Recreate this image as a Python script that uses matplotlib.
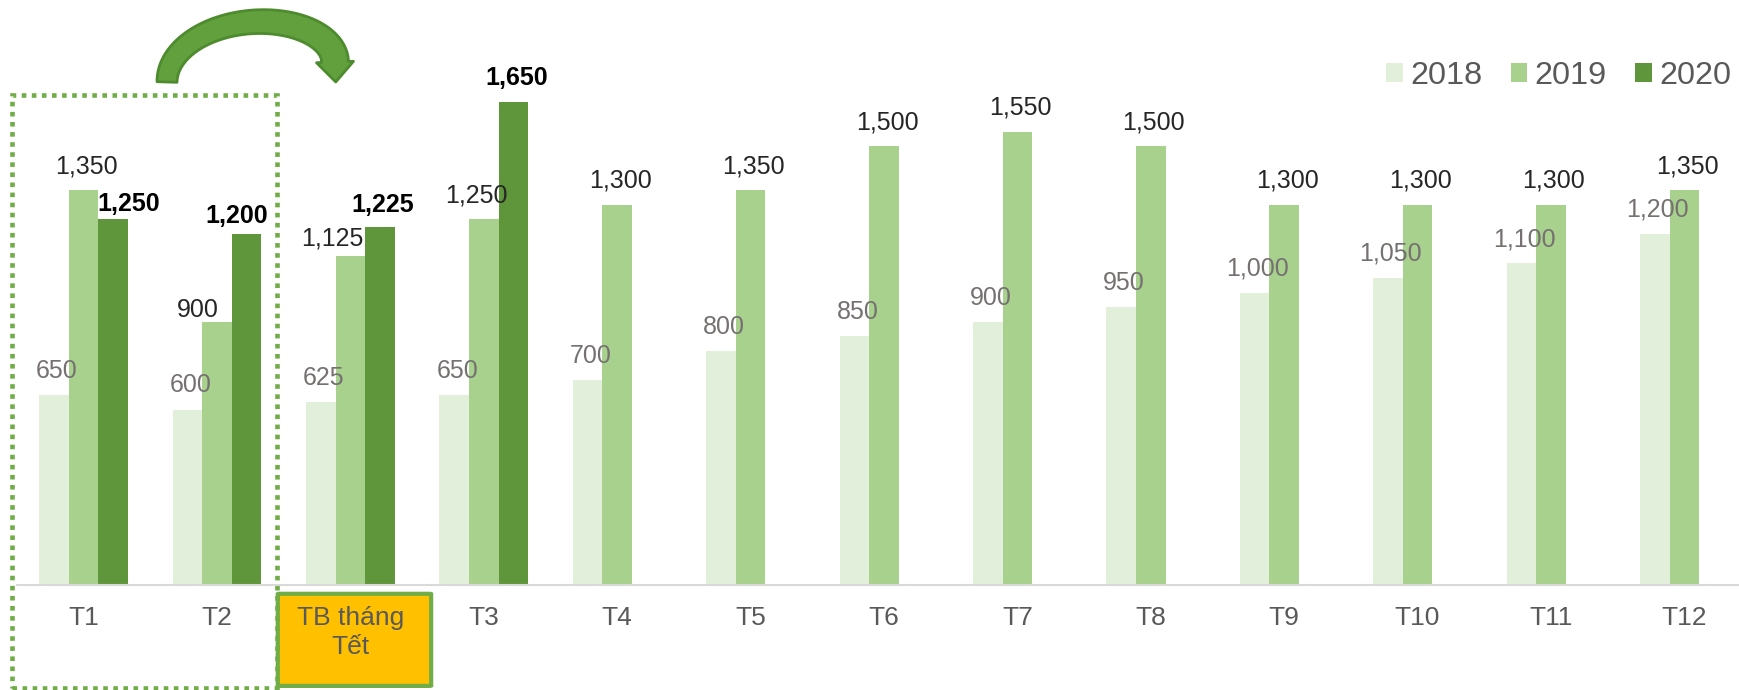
import numpy as np
import matplotlib
matplotlib.use("Agg")
import matplotlib.pyplot as plt
from matplotlib.patches import Rectangle, FancyBboxPatch, Polygon

plt.rcParams['font.family'] = ['Liberation Sans', 'DejaVu Sans']

# data
categories = ['T1', 'T2', 'TB tháng\nTết', 'T3', 'T4', 'T5', 'T6', 'T7',
              'T8', 'T9', 'T10', 'T11', 'T12']
years = ['2018', '2019', '2020']
v2018 = [650, 600, 625, 650, 700, 800, 850, 900, 950, 1000, 1050, 1100, 1200]
v2019 = [1350, 900, 1125, 1250, 1300, 1350, 1500, 1550, 1500, 1300, 1300, 1300, 1350]
v2020 = [1250, 1200, 1225, 1650] + [np.nan] * 9

colors = ['#E2EFDA', '#A9D18E', '#5F963B']
label_colors = ['#767171', '#262626', '#000000']
label_weights = ['normal', 'normal', 'bold']

# manual label nudges (pixels) where labels were moved by hand
nudges = {(2, 0): (15, 8), (1, 1): (-19, 5), (2, 1): (-10, 11),
          (1, 2): (-18, 10), (2, 2): (3, 15), (1, 3): (-7, 17)}

W, H = 1739, 690
fig = plt.figure(figsize=(W / 100, H / 100), dpi=100)
ax = fig.add_axes([17 / W, 105 / H, (W - 17) / W, 585 / H])

x = np.arange(len(categories))
bw = 0.222
series = [v2018, v2019, v2020]
for k, vals in enumerate(series):
    ax.bar(x + (k - 1) * bw, vals, width=bw, color=colors[k],
           label=years[k], zorder=2)
    for i, v in enumerate(vals):
        if np.isnan(v):
            continue
        dx, dy = nudges.get((k, i), (3, 17))
        ax.annotate(f"{int(v):,}", (x[i] + (k - 1) * bw, v),
                    xytext=(dx, dy), textcoords='offset pixels',
                    ha='center', va='baseline', fontsize=18,
                    color=label_colors[k], fontweight=label_weights[k],
                    zorder=4)

ax.set_xlim(-0.5, 12.41)
ax.set_ylim(0, 2000)
for s in ['left', 'right', 'top']:
    ax.spines[s].set_visible(False)
ax.spines['bottom'].set_color('#D9D9D9')
ax.spines['bottom'].set_linewidth(1.5)
ax.set_yticks([])
ax.set_xticks(x)
ax.set_xticklabels(categories, fontsize=19, color='#595959', linespacing=1.25)
ax.tick_params(axis='x', length=0, pad=15)

# yellow box behind the "TB tháng Tết" label
ax.add_patch(FancyBboxPatch((2 - 0.545, -345), 1.15, 315,
                            boxstyle='round,pad=0,rounding_size=0.02',
                            facecolor='#FFC000', edgecolor='#70AD47',
                            linewidth=3, clip_on=False, zorder=1,
                            mutation_aspect=60))

# dotted box around T1, T2
ax.add_patch(Rectangle((-0.536, -352), 1.986, 1675 + 352, fill=False,
                       edgecolor='#70AD47', linewidth=3.3,
                       linestyle=(0, (1, 1.2)), clip_on=False, zorder=1))

# curved arrow (pixel coords, y down) along a half-ellipse centre line
th = np.linspace(np.pi, 0, 80)
cx, rx, ry = 251, 84, 50
cy = 82 - 20 * (1 - th / np.pi)
c = np.column_stack([cx + rx * np.cos(th), cy - ry * np.sin(th)])
d = np.gradient(c, axis=0)
d = d / np.linalg.norm(d, axis=1, keepdims=True)
nrm = np.column_stack([-d[:, 1], d[:, 0]])
half = (np.linspace(20, 27, len(th)) / 2)[:, None]
side_a = c + nrm * half
side_b = c - nrm * half
end, tang, n_end = c[-1], d[-1], nrm[-1]
head = [end + n_end * 18.5, end + tang * 20, end - n_end * 18.5]
pts = np.vstack([side_a, head, side_b[::-1]])
pts_fig = np.column_stack([pts[:, 0] / W, 1 - pts[:, 1] / H])
fig.add_artist(Polygon(pts_fig, closed=True, transform=fig.transFigure,
                       facecolor='#62A03E', edgecolor='#4E8B2E',
                       linewidth=2, joinstyle='round'))

ax.legend(loc='center right', bbox_to_anchor=(1731 / W, 1 - 76 / H),
          bbox_transform=fig.transFigure, ncol=3, frameon=False,
          fontsize=23.3, labelcolor='#595959', handlelength=0.52,
          handleheight=0.52, handletextpad=0.22, columnspacing=0.88,
          borderpad=0, borderaxespad=0)

fig.savefig('out.png', dpi=100)
